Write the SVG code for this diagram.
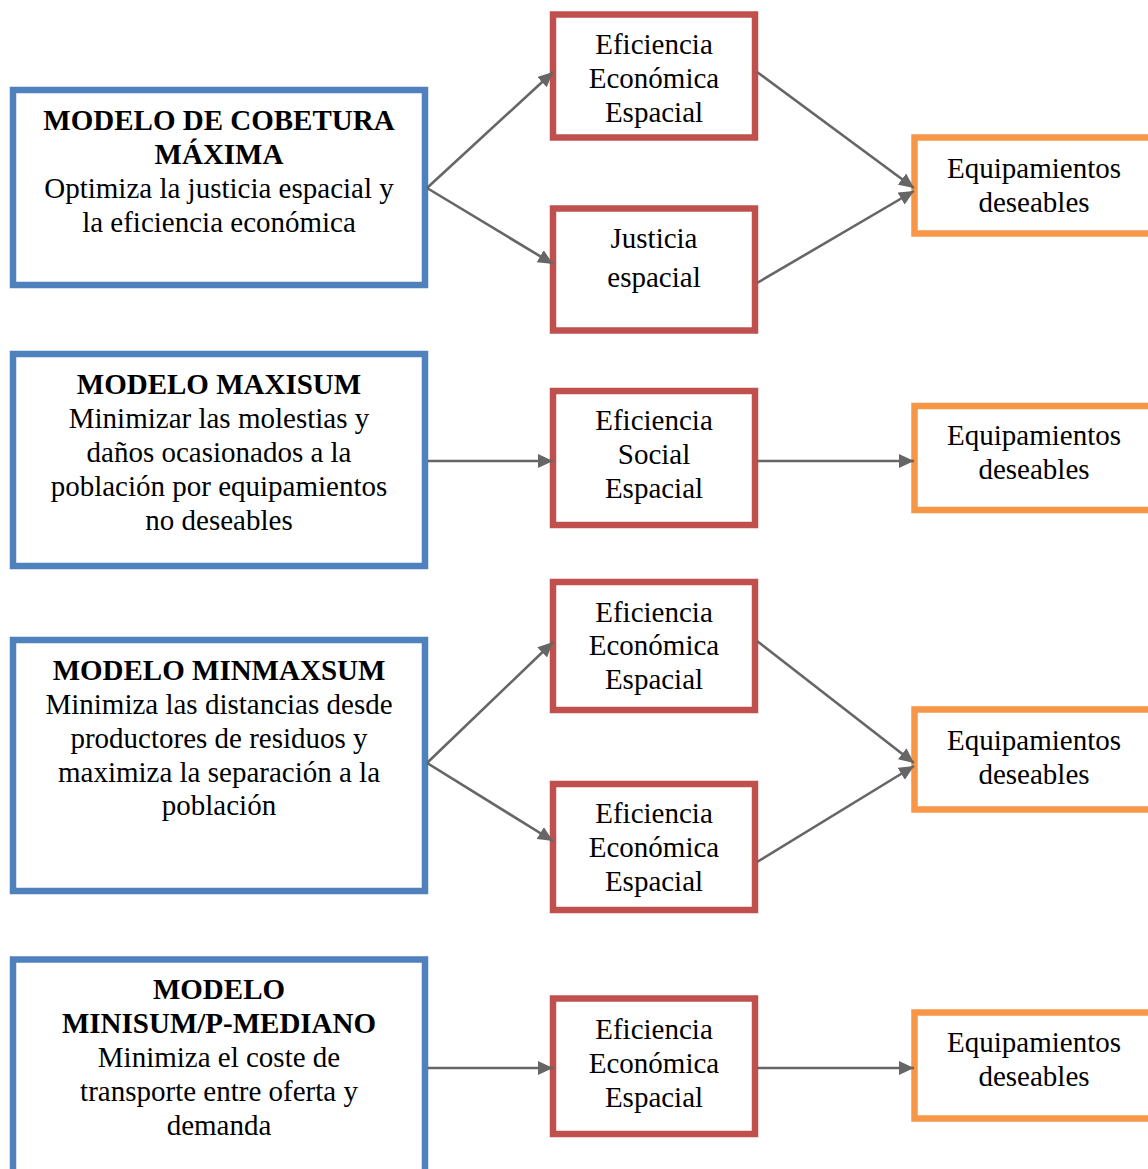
<svg xmlns="http://www.w3.org/2000/svg" width="1148" height="1169" viewBox="0 0 1148 1169">
<style>
.blue{fill:#fff;stroke:#4F81BD;stroke-width:6.5}
.red{fill:#fff;stroke:#C0504D;stroke-width:6.5}
.orange{fill:#fff;stroke:#F79646;stroke-width:6.5}
text{font-family:"Liberation Serif","Times New Roman",serif;font-size:29px;fill:#000;text-anchor:middle}
.b{font-weight:bold}
.conn line{stroke:#666;stroke-width:2.6;marker-end:url(#ah)}
</style>
<defs>
<marker id="ah" markerUnits="userSpaceOnUse" markerWidth="16" markerHeight="14" refX="15" refY="7" orient="auto">
<path d="M0,0 L15,7 L0,14 z" fill="#666"/>
</marker>
</defs>
<rect width="1148" height="1169" fill="#fff"/>

<g id="m1">
<rect class="blue" x="13" y="90" width="412" height="195"/>
<text class="b" x="219" y="130">MODELO DE COBETURA</text>
<text class="b" x="219" y="164">MÁXIMA</text>
<text x="219" y="198">Optimiza la justicia espacial y</text>
<text x="219" y="232">la eficiencia económica</text>
</g>
<g id="r1a">
<rect class="red" x="553" y="14.5" width="202" height="123"/>
<text x="654" y="54">Eficiencia</text>
<text x="654" y="88">Económica</text>
<text x="654" y="122">Espacial</text>
</g>
<g id="r1b">
<rect class="red" x="553" y="208.5" width="202" height="122"/>
<text x="654" y="248">Justicia</text>
<text x="654" y="287">espacial</text>
</g>
<g id="o1">
<rect class="orange" x="914.5" y="137.5" width="240" height="96"/>
<text x="1034" y="178">Equipamientos</text>
<text x="1034" y="212">deseables</text>
</g>

<g id="m2">
<rect class="blue" x="13" y="354" width="412" height="212"/>
<text class="b" x="219" y="394">MODELO MAXISUM</text>
<text x="219" y="428">Minimizar las molestias y</text>
<text x="219" y="462">daños ocasionados a la</text>
<text x="219" y="496">población por equipamientos</text>
<text x="219" y="530">no deseables</text>
</g>
<g id="r2">
<rect class="red" x="553" y="391" width="202" height="134"/>
<text x="654" y="430">Eficiencia</text>
<text x="654" y="464">Social</text>
<text x="654" y="498">Espacial</text>
</g>
<g id="o2">
<rect class="orange" x="914.5" y="406" width="240" height="104"/>
<text x="1034" y="445">Equipamientos</text>
<text x="1034" y="479">deseables</text>
</g>

<g id="m3">
<rect class="blue" x="13" y="640" width="412" height="251"/>
<text class="b" x="219" y="680">MODELO MINMAXSUM</text>
<text x="219" y="714">Minimiza las distancias desde</text>
<text x="219" y="748">productores de residuos y</text>
<text x="219" y="782">maximiza la separación a la</text>
<text x="219" y="815">población</text>
</g>
<g id="r3a">
<rect class="red" x="553" y="582" width="202" height="128"/>
<text x="654" y="622">Eficiencia</text>
<text x="654" y="655">Económica</text>
<text x="654" y="689">Espacial</text>
</g>
<g id="r3b">
<rect class="red" x="553" y="784" width="202" height="126"/>
<text x="654" y="823">Eficiencia</text>
<text x="654" y="857">Económica</text>
<text x="654" y="891">Espacial</text>
</g>
<g id="o3">
<rect class="orange" x="914.5" y="709.5" width="240" height="100"/>
<text x="1034" y="750">Equipamientos</text>
<text x="1034" y="784">deseables</text>
</g>

<g id="m4">
<rect class="blue" x="13" y="959.5" width="412" height="230"/>
<text class="b" x="219" y="999">MODELO</text>
<text class="b" x="219" y="1033">MINISUM/P-MEDIANO</text>
<text x="219" y="1067">Minimiza el coste de</text>
<text x="219" y="1101">transporte entre oferta y</text>
<text x="219" y="1135">demanda</text>
</g>
<g id="r4">
<rect class="red" x="553" y="998.5" width="202" height="135.5"/>
<text x="654" y="1039">Eficiencia</text>
<text x="654" y="1073">Económica</text>
<text x="654" y="1107">Espacial</text>
</g>
<g id="o4">
<rect class="orange" x="914.5" y="1012.5" width="240" height="106"/>
<text x="1034" y="1052">Equipamientos</text>
<text x="1034" y="1086">deseables</text>
</g>

<g id="connectors" class="conn">
<line x1="427" y1="188" x2="553" y2="72"/>
<line x1="427" y1="188" x2="553" y2="264"/>
<line x1="757" y1="72" x2="914" y2="188"/>
<line x1="757" y1="283" x2="914" y2="191"/>
<line x1="428" y1="461" x2="553" y2="461"/>
<line x1="757" y1="461" x2="914" y2="461"/>
<line x1="427" y1="763" x2="553" y2="642"/>
<line x1="427" y1="763" x2="553" y2="841"/>
<line x1="757" y1="641" x2="914" y2="763"/>
<line x1="757" y1="862" x2="914" y2="766"/>
<line x1="428" y1="1068" x2="553" y2="1068"/>
<line x1="757" y1="1068" x2="914" y2="1068"/>
</g>
</svg>
